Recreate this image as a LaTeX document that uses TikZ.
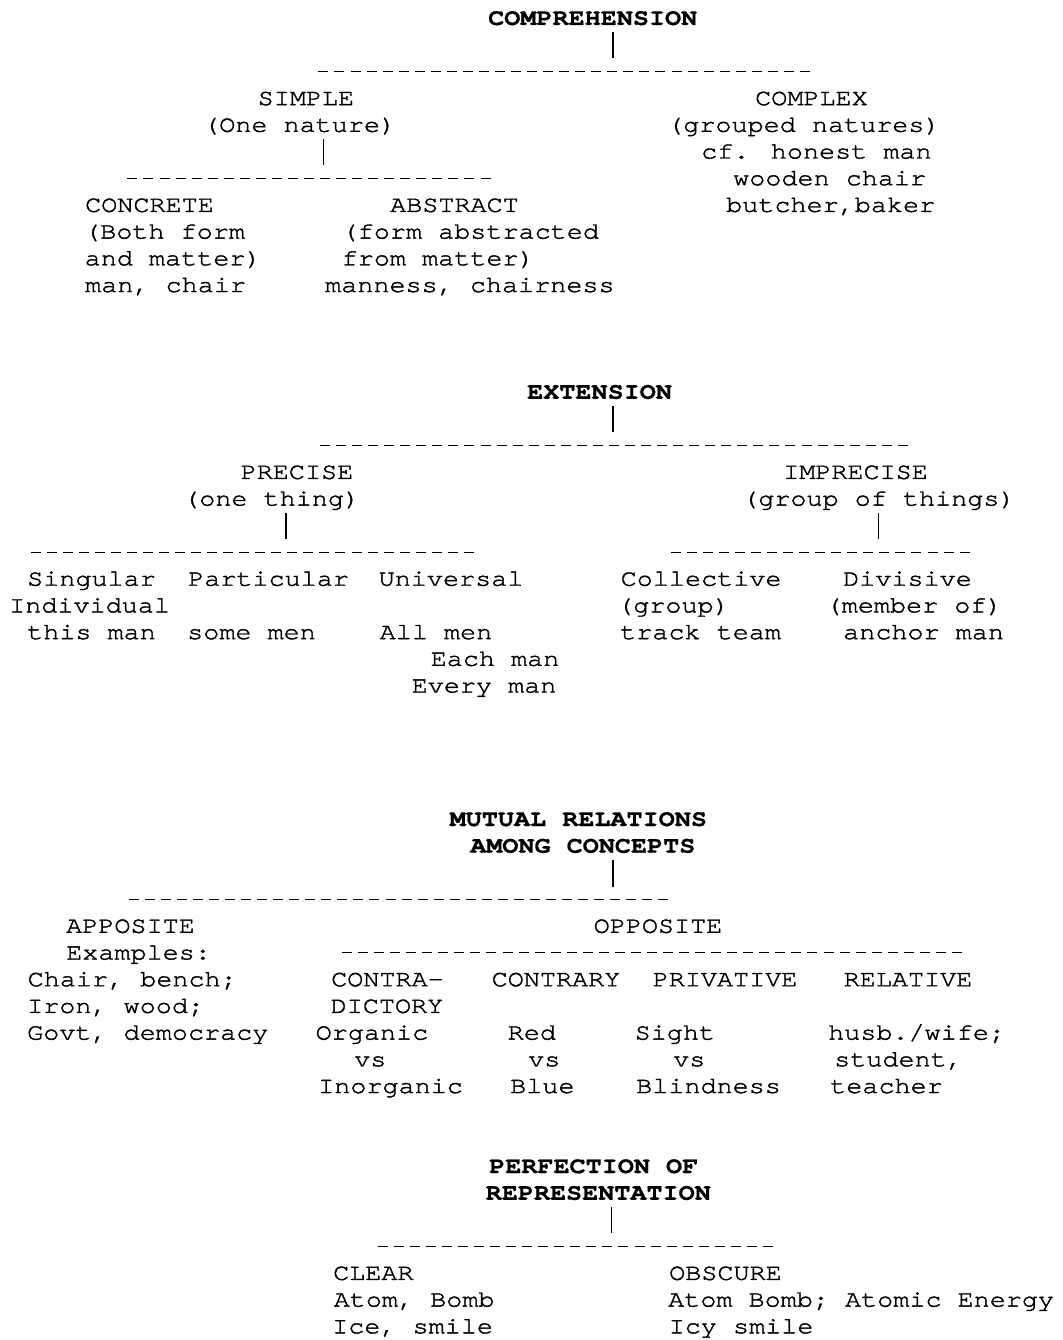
\documentclass[tikz,border=0pt]{standalone}
\usepackage{fontspec}
\usepackage{tikz}
\newfontfamily\cursorfont{texgyrecursor}[Extension=.otf, UprightFont=*-regular, BoldFont=*-bold, FakeStretch=1.15, UprightFeatures={FakeBold=1.6}, BoldFeatures={FakeBold=0.6}]
\def\diagfont{\cursorfont\fontsize{23.3}{26.7}\selectfont}

\begin{document}
\begin{tikzpicture}[x=1pt, y=-1pt,
		every node/.style={inner sep=0pt, anchor=base west, font=\diagfont},
		head/.style={font=\diagfont\bfseries},
		stem/.style={line width=1.2pt, shorten <=7pt},
		rule/.style={line width=1.3pt, dash pattern=on 10pt off 6.05pt}]
	\useasboundingbox (0,0) rectangle (1062,1340);

	% comprehension
	\node[head] (comp) at (488,25) {COMPREHENSION};
	\coordinate (compStem) at (613,58.3);
	\draw[stem] (comp.base -| compStem) -- (compStem);
	\coordinate (compL) at (318.4,71.7);
	\coordinate (compR) at (810,71.7);
	\draw[rule] (compL) -- (compR);
	\node (simple) at (257.5,105.1) {SIMPLE};
	\node (complex) at (755,105.1) {COMPLEX};
	\node (onenat) at (203,131.8) {(One nature)};
	\node (grouped) at (667,131.8) {(grouped natures)};
	\coordinate (simpleStem) at (323.8,165);
	\draw[stem] (onenat.base -| simpleStem) -- (simpleStem);
	\node (cfhonest) at (701,158.5) {cf. honest man};
	\coordinate (simpleL) at (127.4,178.5);
	\coordinate (simpleR) at (490.5,178.5);
	\draw[rule] (simpleL) -- (simpleR);
	\node (wooden) at (733,185.2) {wooden chair};
	\node (concrete) at (85,211.9) {CONCRETE};
	\node (abstract) at (390,211.9) {ABSTRACT};
	\node (butcher) at (726,211.9) {butcher,baker};
	\node (bothform) at (84,238.6) {(Both form};
	\node (formabs) at (341.5,238.6) {(form abstracted};
	\node (andmatter) at (84.5,265.3) {and matter)};
	\node (frommatter) at (341.5,265.3) {from matter)};
	\node (manchair) at (85,292) {man, chair};
	\node (manness) at (325,292) {manness, chairness};

	% extension
	\node[head] (ext) at (527,398.8) {EXTENSION};
	\coordinate (extStem) at (613,431.7);
	\draw[stem] (ext.base -| extStem) -- (extStem);
	\coordinate (extL) at (320,445.5);
	\coordinate (extR) at (907.8,445.5);
	\draw[rule] (extL) -- (extR);
	\node (precise) at (240.5,478.9) {PRECISE};
	\node (imprecise) at (783,478.9) {IMPRECISE};
	\node (onething) at (183,505.6) {(one thing)};
	\node (groupthings) at (742,505.6) {(group of things)};
	\coordinate (preciseStem) at (286,539);
	\coordinate (impreciseStem) at (878.7,539);
	\draw[stem] (onething.base -| preciseStem) -- (preciseStem);
	\draw[stem] (groupthings.base -| impreciseStem) -- (impreciseStem);
	\coordinate (preciseL) at (30.5,552.3);
	\coordinate (preciseR) at (473.9,552.3);
	\draw[rule] (preciseL) -- (preciseR);
	\coordinate (impreciseL) at (670.7,552.3);
	\coordinate (impreciseR) at (969.6,552.3);
	\draw[rule] (impreciseL) -- (impreciseR);
	\node (singular) at (27,585.7) {Singular};
	\node (particular) at (188,585.7) {Particular};
	\node (universal) at (378.5,585.7) {Universal};
	\node (collective) at (620.5,585.7) {Collective};
	\node (divisive) at (843,585.7) {Divisive};
	\node (individual) at (9,612.4) {Individual};
	\node (group) at (617,612.4) {(group)};
	\node (memberof) at (825.5,612.4) {(member of)};
	\node (thisman) at (27,639.1) {this man};
	\node (somemen) at (187,639.1) {some men};
	\node (allmen) at (379.5,639.1) {All men};
	\node (trackteam) at (620,639.1) {track team};
	\node (anchorman) at (843,639.1) {anchor man};
	\node (eachman) at (430.5,665.8) {Each man};
	\node (everyman) at (411.5,692.5) {Every man};

	% mutual relations
	\node[head] (mutual) at (449.5,826) {MUTUAL RELATIONS};
	\node[head] (among) at (470,852.7) {AMONG CONCEPTS};
	\coordinate (mutualStem) at (613,886.7);
	\draw[stem] (among.base -| mutualStem) -- (mutualStem);
	\coordinate (mutualL) at (128.7,899.4);
	\coordinate (mutualR) at (668.4,899.4);
	\draw[rule] (mutualL) -- (mutualR);
	\node (apposite) at (66,932.8) {APPOSITE};
	\node (opposite) at (593.5,932.8) {OPPOSITE};
	\node (examples) at (66,959.5) {Examples:};
	\coordinate (oppositeL) at (342,952.8);
	\coordinate (oppositeR) at (961.9,952.8);
	\draw[rule] (oppositeL) -- (oppositeR);
	\node (chairbench) at (27.5,986.2) {Chair, bench;};
	\node (contra) at (331,986.2) {CONTRA-};
	\node (contrary) at (491.5,986.2) {CONTRARY};
	\node (privative) at (652.5,986.2) {PRIVATIVE};
	\node (relative) at (843.5,986.2) {RELATIVE};
	\node (ironwood) at (27,1012.9) {Iron, wood;};
	\node (dictory) at (330.5,1012.9) {DICTORY};
	\node (govt) at (27,1039.6) {Govt, democracy};
	\node (organic) at (315.5,1039.6) {Organic};
	\node (red) at (507.5,1039.6) {Red};
	\node (sight) at (634.5,1039.6) {Sight};
	\node (husb) at (828,1039.6) {husb./wife;};
	\node (vsA) at (354,1066.3) {vs};
	\node (vsB) at (528,1066.3) {vs};
	\node (vsC) at (673,1066.3) {vs};
	\node (student) at (834,1066.3) {student,};
	\node (inorganic) at (318,1093) {Inorganic};
	\node (blue) at (510,1093) {Blue};
	\node (blindness) at (636,1093) {Blindness};
	\node (teacher) at (830,1093) {teacher};

	% perfection of representation
	\node[head] (perf) at (489,1173.1) {PERFECTION OF};
	\node[head] (repr) at (485.5,1199.8) {REPRESENTATION};
	\coordinate (perfStem) at (611.7,1233.3);
	\draw[stem] (repr.base -| perfStem) -- (perfStem);
	\coordinate (perfL) at (377.7,1246.5);
	\coordinate (perfR) at (772.9,1246.5);
	\draw[rule] (perfL) -- (perfR);
	\node (clear) at (333,1279.9) {CLEAR};
	\node (obscure) at (669,1279.9) {OBSCURE};
	\node (atombomb) at (333.5,1306.6) {Atom, Bomb};
	\node (atomenergy) at (668,1306.6) {Atom Bomb; Atomic Energy};
	\node (ice) at (332,1333.3) {Ice, smile};
	\node (icy) at (668.5,1333.3) {Icy smile};
\end{tikzpicture}
\end{document}
